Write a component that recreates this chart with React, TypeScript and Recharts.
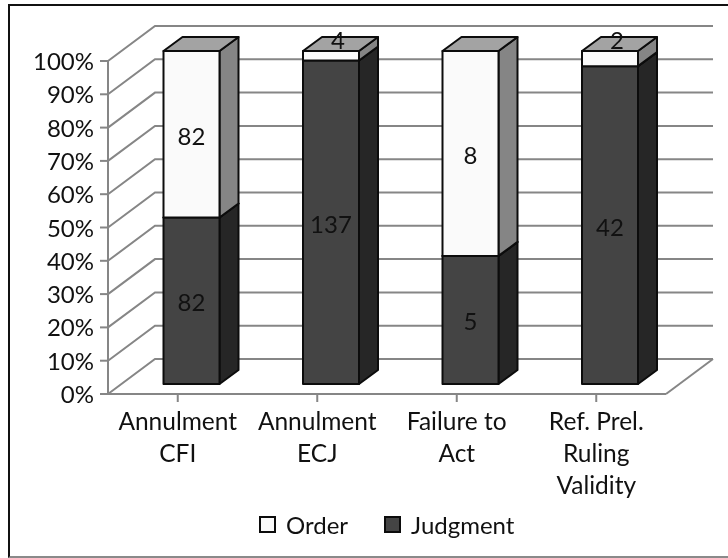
import React from "react";
import { BarChart, Bar, XAxis, YAxis, CartesianGrid, Legend, LabelList } from "recharts";

const categoryLines = [["Annulment", "CFI"], ["Annulment", "ECJ"], ["Failure to", "Act"], ["Ref. Prel.", "Ruling", "Validity"]];
const categories = ["Annulment CFI", "Annulment ECJ", "Failure to Act", "Ref. Prel. Ruling Validity"];
const judgment = [82, 137, 5, 42];
const order = [82, 4, 8, 2];
const yTicks = [0, 0.1, 0.2, 0.3, 0.4, 0.5, 0.6, 0.7, 0.8, 0.9, 1];

const data = categories.map((name, i) => ({ name, Judgment: judgment[i], Order: order[i] }));

const FONT = "Lato, 'Open Sans', sans-serif";
const GRID = "#868686";
const WALL_DX = 47, WALL_DY = -35;
const SHIFT_X = 13.5, SHIFT_Y = -10;
const DEPTH_X = 19, DEPTH_Y = -14;

function Box3D(colors: { front: string; side: string; top: string }) {
  return (p: any) => {
    const x = p.x + SHIFT_X, y = p.y + SHIFT_Y, w = p.width, h = p.height;
    const sw = 2;
    return (
      <g stroke="#0c0c0c" strokeWidth={sw} strokeLinejoin="round">
        <path fill={colors.side} d={`M${x + w},${y} l${DEPTH_X},${DEPTH_Y} v${h} l${-DEPTH_X},${-DEPTH_Y} z`} />
        <path fill={colors.top} d={`M${x},${y} l${DEPTH_X},${DEPTH_Y} h${w} l${-DEPTH_X},${-DEPTH_Y} z`} />
        <rect x={x} y={y} width={w} height={h} fill={colors.front} />
      </g>
    );
  };
}

function SegLabel(props: any) {
  const { x, y, width, height, value } = props;
  const small = height < 20;
  const cx = x + SHIFT_X + width / 2 + (small ? 7 : 0);
  const cy = small ? y + SHIFT_Y - 12 : y + SHIFT_Y + height / 2 + 1;
  return (
    <text x={cx} y={cy} textAnchor="middle" dominantBaseline="central" fontFamily={FONT} fontSize={24} fill="#111111">
      {value}
    </text>
  );
}

function GridLine(p: any) {
  const { x1, x2, y1 } = p;
  return (
    <polyline
      fill="none"
      stroke={GRID}
      strokeWidth={2}
      points={`${x1},${y1} ${x1 + WALL_DX},${y1 + WALL_DY} ${x2 + WALL_DX},${y1 + WALL_DY}`}
    />
  );
}

function GridWithFloor(p: any) {
  const { x2, y1 } = p;
  return (
    <g>
      <GridLine {...p} />
      {y1 > 390 ? (
        <line x1={x2} y1={y1} x2={x2 + WALL_DX} y2={y1 + WALL_DY} stroke={GRID} strokeWidth={2} />
      ) : null}
    </g>
  );
}

function XTick(p: any) {
  const lines = categoryLines[p.index] || [];
  return (
    <text x={p.x} textAnchor="middle" fontFamily={FONT} fontSize={24.5} fill="#111111">
      {lines.map((l, i) => (
        <tspan key={l} x={p.x} y={430 + i * 32}>
          {l}
        </tspan>
      ))}
    </text>
  );
}

function YTick(p: any) {
  return (
    <text x={p.x} y={p.y} dy={9} textAnchor="end" fontFamily={FONT} fontSize={24} fill="#111111">
      {`${Math.round(p.payload.value * 100)}%`}
    </text>
  );
}

function LegendContent(p: any) {
  const items = [...(p.payload || [])].reverse();
  return (
    <div style={{ display: "flex", paddingLeft: 259, fontFamily: FONT, fontSize: 24, color: "#111111" }}>
      {items.map((it: any) => (
        <div key={it.value} style={{ display: "flex", alignItems: "center", marginRight: 36 }}>
          <span style={{ width: 13, height: 13, border: "2px solid #0c0c0c", background: it.color, marginRight: 10 }} />
          {it.value}
        </div>
      ))}
    </div>
  );
}

export default function App() {
  return (
    <div style={{ position: "absolute", left: 0, top: 0, width: 728, height: 558, background: "#fff", overflow: "hidden", filter: "blur(0.35px)" }}>
      <div style={{ position: "absolute", left: 8, top: 4, right: 0, bottom: 0, borderLeft: "2px solid #111", borderTop: "2px solid #111", borderBottom: "2px solid #8a8a8a" }} />
      <BarChart
        width={728}
        height={558}
        data={data}
        stackOffset="expand"
        barSize={56}
        margin={{ top: 61, right: 62, bottom: 0, left: 0 }}
        style={{ position: "absolute", left: 0, top: 0 }}
      >
        <CartesianGrid vertical={false} horizontal={GridWithFloor as any} />
        <XAxis dataKey="name" height={120} tick={XTick as any} interval={0} stroke={GRID} strokeWidth={2} tickSize={8} tickLine={{ stroke: GRID, strokeWidth: 2 }} />
        <YAxis
          width={108}
          domain={[0, 1]}
          ticks={yTicks}
          stroke={GRID}
          strokeWidth={2}
          tickSize={8}
          tickMargin={6}
          tick={YTick as any}
          tickLine={{ stroke: GRID, strokeWidth: 2 }}
          interval={0}
        />
        <Bar dataKey="Judgment" stackId="a" fill="#444444" isAnimationActive={false} shape={Box3D({ front: "#444444", side: "#262626", top: "#6a6a6a" })}>
          <LabelList dataKey="Judgment" content={SegLabel as any} />
        </Bar>
        <Bar dataKey="Order" stackId="a" fill="#fafafa" isAnimationActive={false} shape={Box3D({ front: "#fafafa", side: "#858585", top: "#a3a3a3" })}>
          <LabelList dataKey="Order" content={SegLabel as any} />
        </Bar>
        <Legend height={44} verticalAlign="bottom" content={LegendContent as any} wrapperStyle={{ bottom: 4, left: 0, width: 728 }} />
      </BarChart>
    </div>
  );
}
